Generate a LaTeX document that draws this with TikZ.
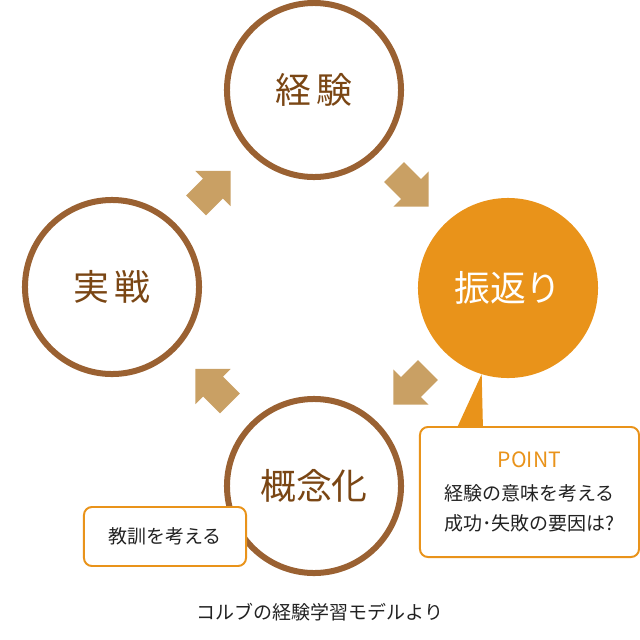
\documentclass[tikz,border=0pt]{standalone}
\usepackage{fontspec}
\setmainfont{Noto Sans CJK JP}
\usetikzlibrary{calc}
\definecolor{ringbrown}{HTML}{9A6132}
\definecolor{labelbrown}{HTML}{7A4614}
\definecolor{pointorange}{HTML}{E9931A}
\definecolor{arrowtan}{HTML}{C9A064}
\definecolor{textgray}{HTML}{222222}
\begin{document}
\begin{tikzpicture}[x=0.025cm, y=-0.025cm,
  stage/.style={circle, draw=ringbrown, line width=4.27pt, minimum size=4.35cm,
    inner sep=0pt, text=labelbrown, font=\fontsize{25.5}{30}\selectfont},
  focus/.style={stage, draw=pointorange, fill=pointorange, text=white},
  memo/.style={draw=pointorange, line width=1.4pt, rounded corners=0.2cm, fill=white,
    text=textgray, align=center, font=\fontsize{13.5}{21.3}\selectfont},
  pics/cyclearrow/.style={code={
    \fill[arrowtan] (-24,-14) -- (0,-14) -- (0,-25) -- (25,0) -- (0,25) -- (0,14) -- (-24,14) -- cycle;}}]
  \useasboundingbox (0,0) rectangle (640,640);

  % Stages of the cycle
  \node[stage] (keiken) at (314,90) {経\kern4pt 験};
  \node[focus] (furi) at (508,288) {振返り};
  \node[stage] (gainen) at (314,486) {概念化};
  \node[stage] (jissen) at (112,287) {実\kern4pt 戦};

  % Arrows between the stages
  \foreach \a/\b/\r in {jissen/keiken/45, keiken/furi/-45, furi/gainen/-135, gainen/jissen/135}
    \pic[rotate=\r] at ($(\a)!0.5!(\b)$) {cyclearrow};

  % Notes
  \fill[pointorange] (456,430) -- (furi.-107) -- (483,430) -- cycle;
  \node[memo, minimum width=5.475cm, minimum height=3.25cm] (point) at (529.5,492)
    {{\fontsize{15}{20}\selectfont\color{pointorange}POINT}\\[2pt]
     経験の意味を考える\\ 成功･失敗の要因は?};
  \node[memo, minimum width=4.05cm, minimum height=1.475cm] (kyokun) at (165,536.5) {教訓を考える};

  \node[text=textgray, font=\fontsize{13.5}{16}\selectfont] (caption) at (320,612) {コルブの経験学習モデルより};
\end{tikzpicture}
\end{document}
